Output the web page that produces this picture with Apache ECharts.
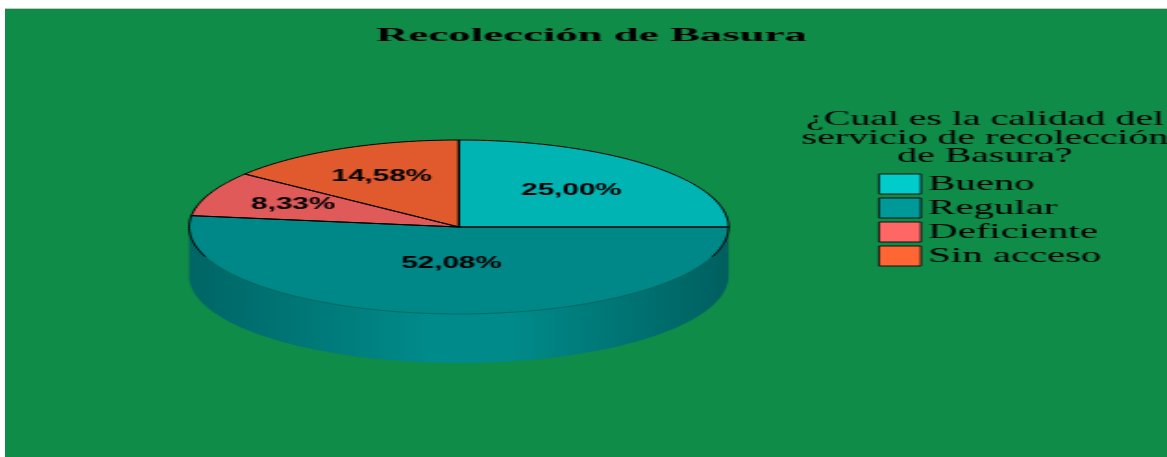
<!DOCTYPE html>
<html>
<head>
<meta charset="utf-8">
<script src="https://cdn.jsdelivr.net/npm/echarts@6/dist/echarts.min.js"></script>
<style>
html,body{margin:0;padding:0;background:#fff;width:1167px;height:457px;overflow:hidden;}
#frame{position:absolute;left:5px;top:8px;width:1162px;height:448px;border-top:1px solid #c8c8c8;background:#0f8c48;overflow:hidden;}
#chart{position:absolute;left:0;top:0;width:628px;height:448px;transform:scaleX(1.85);transform-origin:0 0;}
</style>
</head>
<body>
<div id="frame"><div id="chart"></div></div>
<script>
// ---- data ----
const chartTitle = 'Recolección de Basura';
const legendTitle = '¿Cual es la calidad del\nservicio de recolección\nde Basura?';
const categories = ['Bueno', 'Regular', 'Deficiente', 'Sin acceso'];
const counts = [12, 25, 4, 7];
const legendColors = ['#00CCCC', '#009999', '#FF6666', '#FF6633'];

// ---- layout / style (pre-stretch coordinates) ----
const CX = 245.3, CY = 218, RX = 145.8, RY = 87, DEPTH = 49;
const labelRatio = [0.59, 0.42, 0.665, 0.645];

function shade(hex, k) {
  const n = parseInt(hex.slice(1), 16);
  const r = Math.round(((n >> 16) & 255) * k), g = Math.round(((n >> 8) & 255) * k), b = Math.round((n & 255) * k);
  return 'rgb(' + r + ',' + g + ',' + b + ')';
}
const total = counts.reduce((s, v) => s + v, 0);
const startAngles = [];
(function () { let acc = 0; counts.forEach(v => { startAngles.push(acc / total * 360); acc += v; }); })();

function pt(theta, dy) {
  const r = theta * Math.PI / 180;
  return [CX + RX * Math.sin(r), CY - RY * Math.cos(r) + (dy || 0)];
}
function arcPts(a, b, dy) {
  const n = Math.max(2, Math.ceil((b - a) / 1.5));
  const out = [];
  for (let i = 0; i <= n; i++) out.push(pt(a + (b - a) * i / n, dy));
  return out;
}
function fmtPct(v) { return (v / total * 100).toFixed(2).replace('.', ',') + '%'; }

function makeRender(idx) {
  return function (params, api) {
    const val = api.value(0);
    const a = startAngles[idx];
    const b = a + val / total * 360;
    const base = legendColors[idx];
    const children = [];
    // front side wall
    const fa = Math.max(a, 90), fb = Math.min(b, 270);
    if (fb > fa) {
      const top = arcPts(fa, fb, 0);
      const bot = arcPts(fa, fb, DEPTH).reverse();
      children.push({
        type: 'polygon', z2: 1,
        shape: { points: top.concat(bot) },
        style: {
          fill: {
            type: 'linear', global: true, x: CX - RX, y: 0, x2: CX + RX, y2: 0,
            colorStops: [
              { offset: 0, color: shade(base, 0.66) },
              { offset: 0.45, color: shade(base, 0.91) },
              { offset: 0.6, color: shade(base, 0.9) },
              { offset: 1, color: shade(base, 0.62) }
            ]
          }
        }
      });
    }
    // top face
    children.push({
      type: 'polygon', z2: 2,
      shape: { points: [[CX, CY]].concat(arcPts(a, b, 0)) },
      style: { fill: shade(base, 0.88) }
    });
    // radial edges
    children.push({
      type: 'polyline', z2: 3,
      shape: { points: [pt(a, 0), [CX, CY], pt(b, 0)] },
      style: { stroke: '#000', lineWidth: 1, fill: 'none' }
    });
    // rim
    const cuts = [a];
    [110, 250].forEach(c => { if (c > a && c < b) cuts.push(c); });
    cuts.push(b);
    for (let i = 0; i < cuts.length - 1; i++) {
      const s = cuts[i], e = cuts[i + 1], m = (s + e) / 2;
      const faint = m > 110 && m < 250;
      children.push({
        type: 'polyline', z2: 3,
        shape: { points: arcPts(s, e, 0) },
        style: faint ? { stroke: 'rgba(0,60,60,0.55)', lineWidth: 0.7, fill: 'none' }
                     : { stroke: '#000', lineWidth: 1, fill: 'none' }
      });
    }
    // label
    const mid = (a + b) / 2, f = labelRatio[idx], r = mid * Math.PI / 180;
    children.push({
      type: 'text', z2: 10,
      x: CX + RX * f * Math.sin(r), y: CY - RY * f * Math.cos(r),
      style: {
        text: fmtPct(val), font: 'bold 16px "Liberation Sans", Arial, sans-serif', fill: '#000',
        align: 'center', verticalAlign: 'middle', textAlign: 'center', textVerticalAlign: 'middle'
      }
    });
    return { type: 'group', children: children };
  };
}

const chart = echarts.init(document.getElementById('chart'), null, { renderer: 'canvas' });
chart.setOption({
  animation: false,
  backgroundColor: 'transparent',
  legend: {
    orient: 'vertical', left: 471.9, top: 164, padding: 0,
    itemWidth: 22.7, itemHeight: 20, itemGap: 2,
    icon: 'rect', selectedMode: false,
    itemStyle: { borderColor: '#111', borderWidth: 1 },
    textStyle: { fontFamily: '"Liberation Serif", "Times New Roman", serif', fontSize: 22, color: '#000', lineHeight: 20, padding: [0, 0, 0, -1] },
    data: categories
  },
  graphic: [
    {
      type: 'text', x: 317, y: 26.5, scaleX: 1.243, z: 100,
      style: {
        text: chartTitle, font: 'bold 19.5px "Liberation Serif", "Times New Roman", serif', fill: '#000',
        align: 'center', verticalAlign: 'middle', textAlign: 'center', textVerticalAlign: 'middle'
      }
    },
    {
      type: 'text', x: 529.7, y: 101, z: 100,
      style: {
        text: legendTitle, font: '21.5px "Liberation Serif", "Times New Roman", serif', fill: '#000',
        lineHeight: 18.7, align: 'center', verticalAlign: 'top', textAlign: 'center', textVerticalAlign: 'top'
      }
    }
  ],
  series: categories.map((name, i) => ({
    type: 'custom', name: name, coordinateSystem: 'none', silent: true,
    itemStyle: { color: legendColors[i] },
    renderItem: makeRender(i),
    data: [[counts[i]]]
  }))
});
</script>
</body>
</html>
